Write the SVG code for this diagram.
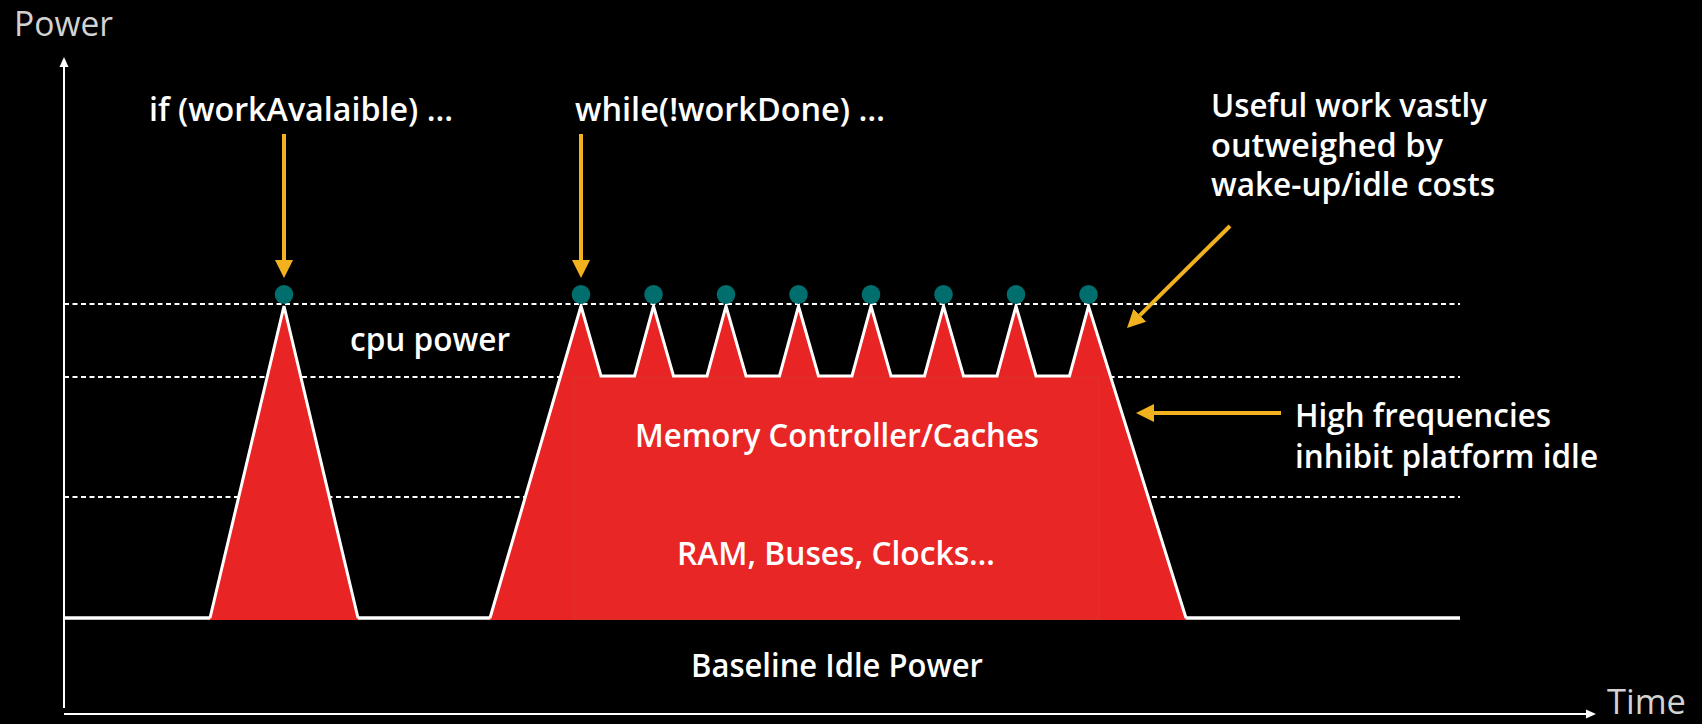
<svg xmlns="http://www.w3.org/2000/svg" width="1702" height="724" viewBox="0 0 1702 724">
  <defs>
    <style>
      .lbl { font-family: "Open Sans", "Liberation Sans", sans-serif; font-weight: 600; font-size: 32px; fill: #ffffff; }
      .axislbl { font-family: "Open Sans", "Liberation Sans", sans-serif; font-weight: 400; fill: #d2d2d2; }
      .dash { stroke: #ffffff; stroke-width: 2; stroke-dasharray: 5 3.5; fill: none; }
      .dot { fill: #006e6c; }
      .oarrow { stroke: #f2b11e; stroke-width: 4; fill: none; marker-end: url(#ohead); }
      .axis { stroke: #ffffff; stroke-width: 2; fill: none; }
    </style>
    <marker id="ohead" viewBox="0 0 18 18" markerWidth="18" markerHeight="18" refX="0" refY="9" orient="auto" markerUnits="userSpaceOnUse">
      <path d="M0,0 L18,9 L0,18 z" fill="#f2b11e"/>
    </marker>
    <marker id="whead" viewBox="0 0 10 10" markerWidth="10" markerHeight="10" refX="0" refY="5" orient="auto" markerUnits="userSpaceOnUse">
      <path d="M0,0.5 L10,5 L0,9.5 z" fill="#ffffff"/>
    </marker>
  </defs>
  <rect x="0" y="0" width="1702" height="724" fill="#000000"/>

  <g id="axes">
    <line class="axis" x1="64" y1="708" x2="64" y2="67" marker-end="url(#whead)"/>
    <line class="axis" x1="64" y1="714" x2="1586" y2="714" stroke-width="2.6" marker-end="url(#whead)"/>
    <text class="axislbl" x="14" y="36" font-size="34" textLength="99" lengthAdjust="spacingAndGlyphs">Power</text>
    <text class="axislbl" x="1607" y="714" font-size="34" textLength="79" lengthAdjust="spacingAndGlyphs">Time</text>
  </g>

  <g id="gridlines">
    <line class="dash" x1="64" y1="304" x2="1460" y2="304"/>
    <line class="dash" x1="64" y1="377" x2="1460" y2="377"/>
    <line class="dash" x1="64" y1="497" x2="1460" y2="497"/>
  </g>

  <g id="baseline-idle">
    <line x1="64" y1="618" x2="1460" y2="618" stroke="#ffffff" stroke-width="3.5"/>
    <text class="lbl" x="691" y="677" textLength="292" lengthAdjust="spacingAndGlyphs">Baseline Idle Power</text>
  </g>

  <g id="spike-single">
    <path d="M210,620 L284,306 L358,620 Z" fill="#e92424"/>
    <polyline points="210,618 284,306 358,618" fill="none" stroke="#ffffff" stroke-width="3" stroke-linejoin="miter"/>
    <ellipse class="dot" cx="284" cy="294.5" rx="9.3" ry="9.6"/>
  </g>

  <g id="spike-train">
    <path d="M490,620 L581,306 L601,376 L634.5,376 L653.5,306 L673.5,376 L707,376 L726,306 L746,376 L779.5,376 L798.5,306 L818.5,376 L852,376 L871,306 L891,376 L924.5,376 L943.5,306 L963.5,376 L997,376 L1016,306 L1036,376 L1069.5,376 L1088.5,306 L1186,620 Z" fill="#e92424"/>
    <rect x="574" y="377" width="525" height="242" fill="#e92626" stroke="#d8352a" stroke-width="1"/>
    <polyline points="490,618 581,306 601,376 634.5,376 653.5,306 673.5,376 707,376 726,306 746,376 779.5,376 798.5,306 818.5,376 852,376 871,306 891,376 924.5,376 943.5,306 963.5,376 997,376 1016,306 1036,376 1069.5,376 1088.5,306 1186,618" fill="none" stroke="#ffffff" stroke-width="3" stroke-linejoin="miter"/>
    <ellipse class="dot" cx="581" cy="294.5" rx="9.3" ry="9.6"/>
    <ellipse class="dot" cx="653.5" cy="294.5" rx="9.3" ry="9.6"/>
    <ellipse class="dot" cx="726" cy="294.5" rx="9.3" ry="9.6"/>
    <ellipse class="dot" cx="798.5" cy="294.5" rx="9.3" ry="9.6"/>
    <ellipse class="dot" cx="871" cy="294.5" rx="9.3" ry="9.6"/>
    <ellipse class="dot" cx="943.5" cy="294.5" rx="9.3" ry="9.6"/>
    <ellipse class="dot" cx="1016" cy="294.5" rx="9.3" ry="9.6"/>
    <ellipse class="dot" cx="1088.5" cy="294.5" rx="9.3" ry="9.6"/>
    <text class="lbl" x="635" y="447" textLength="404" lengthAdjust="spacingAndGlyphs">Memory Controller/Caches</text>
    <text class="lbl" x="677" y="565" textLength="318" lengthAdjust="spacingAndGlyphs">RAM, Buses, Clocks…</text>
  </g>

  <g id="label-cpu">
    <text class="lbl" x="350" y="351" textLength="160" lengthAdjust="spacingAndGlyphs">cpu power</text>
  </g>

  <g id="label-if">
    <text class="lbl" x="149" y="121" textLength="304" lengthAdjust="spacingAndGlyphs">if (workAvalaible) …</text>
  </g>

  <g id="label-while">
    <text class="lbl" x="575" y="121" textLength="310" lengthAdjust="spacingAndGlyphs">while(!workDone) …</text>
  </g>

  <g id="label-useful">
    <text class="lbl" x="1211" y="117" textLength="276" lengthAdjust="spacingAndGlyphs">Useful work vastly</text>
    <text class="lbl" x="1211" y="157" textLength="232" lengthAdjust="spacingAndGlyphs">outweighed by</text>
    <text class="lbl" x="1211" y="196" textLength="284" lengthAdjust="spacingAndGlyphs">wake-up/idle costs</text>
  </g>

  <g id="label-high">
    <text class="lbl" x="1295" y="427" textLength="256" lengthAdjust="spacingAndGlyphs">High frequencies</text>
    <text class="lbl" x="1295" y="468" textLength="303" lengthAdjust="spacingAndGlyphs">inhibit platform idle</text>
  </g>

  <g id="connectors">
    <line class="oarrow" x1="284" y1="134" x2="284" y2="260"/>
    <line class="oarrow" x1="581" y1="134" x2="581" y2="260"/>
    <line class="oarrow" x1="1230" y1="226" x2="1139.8" y2="315.3"/>
    <line class="oarrow" x1="1281" y1="413" x2="1154" y2="413"/>
  </g>
</svg>
